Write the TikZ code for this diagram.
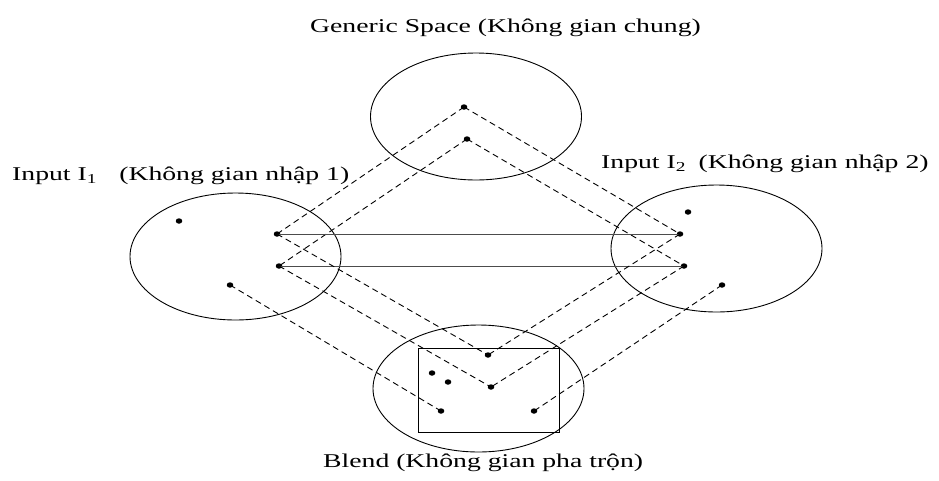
\documentclass[tikz,border=0pt]{standalone}
\usepackage{fontspec}
\setmainfont{Liberation Serif}
\usetikzlibrary{shapes.geometric}
\tikzset{
  space/.style={draw, ellipse, line width=0.9pt, minimum width=211pt, minimum height=127pt, inner sep=0pt},
  dot/.style={fill, ellipse, minimum width=6.5pt, minimum height=5.5pt, inner sep=0pt},
  dashline/.style={dashed, dash pattern=on 6pt off 4pt, line width=0.9pt},
  solidline/.style={line width=0.8pt, black!70},
  lbl/.style={inner sep=0pt, font=\fontsize{19.5}{22}\selectfont}
}
\newcommand{\wide}[1]{\scalebox{1.42}[1]{#1}}
\begin{document}
\begin{tikzpicture}[x=1pt, y=-1pt]
\useasboundingbox (0,0) rectangle (939,480);
% spaces
\node[space] (gen) at (476,116.5) {};
\node[space] (in1) at (235.5,256.5) {};
\node[space] (in2) at (716.5,248.5) {};
\node[space] (bl) at (478.5,388.5) {};
\draw[line width=0.9pt] (418,348) rectangle (559,432);
% labels
\node[lbl, anchor=base west] (tg) at (310,32) {\wide{Generic Space (Không gian chung)}};
\node[lbl, anchor=base west] (t1) at (12,180) {\wide{Input I\textsubscript{1}\hspace{0.8em}(Không gian nhập 1)}};
\node[lbl, anchor=base west] (t2) at (601,168) {\wide{Input I\textsubscript{2}\hspace{0.45em}(Không gian nhập 2)}};
\node[lbl, anchor=base west] (tb) at (323,467) {\wide{Blend (Không gian pha trộn)}};
% dots generic
\node[dot] (g1) at (464,107) {};
\node[dot] (g2) at (467,139) {};
% dots input 1
\node[dot] (a0) at (179,221) {};
\node[dot] (a1) at (277,234) {};
\node[dot] (a2) at (279,266) {};
\node[dot] (a3) at (230,285) {};
% dots input 2
\node[dot] (c0) at (688,212) {};
\node[dot] (c1) at (680,234) {};
\node[dot] (c2) at (684,266) {};
\node[dot] (c3) at (722,285) {};
% dots blend
\node[dot] (b1) at (488,355) {};
\node[dot] (b2) at (432,373) {};
\node[dot] (b3) at (448,382) {};
\node[dot] (b4) at (491,387) {};
\node[dot] (b5) at (441,411) {};
\node[dot] (b6) at (534,411) {};
% connectors
\draw[dashline] (g1.center) -- (a1.center);
\draw[dashline] (g2.center) -- (a2.center);
\draw[dashline] (g1.center) -- (c1.center);
\draw[dashline] (g2.center) -- (c2.center);
\draw[solidline] (a1.center) -- (c1.center);
\draw[solidline] (a2.center) -- (c2.center);
\draw[dashline] (a1.center) -- (b1.center);
\draw[dashline] (a2.center) -- (b4.center);
\draw[dashline] (c1.center) -- (b1.center);
\draw[dashline] (c2.center) -- (b4.center);
\draw[dashline] (a3.center) -- (b5.center);
\draw[dashline] (c3.center) -- (b6.center);
\end{tikzpicture}
\end{document}
